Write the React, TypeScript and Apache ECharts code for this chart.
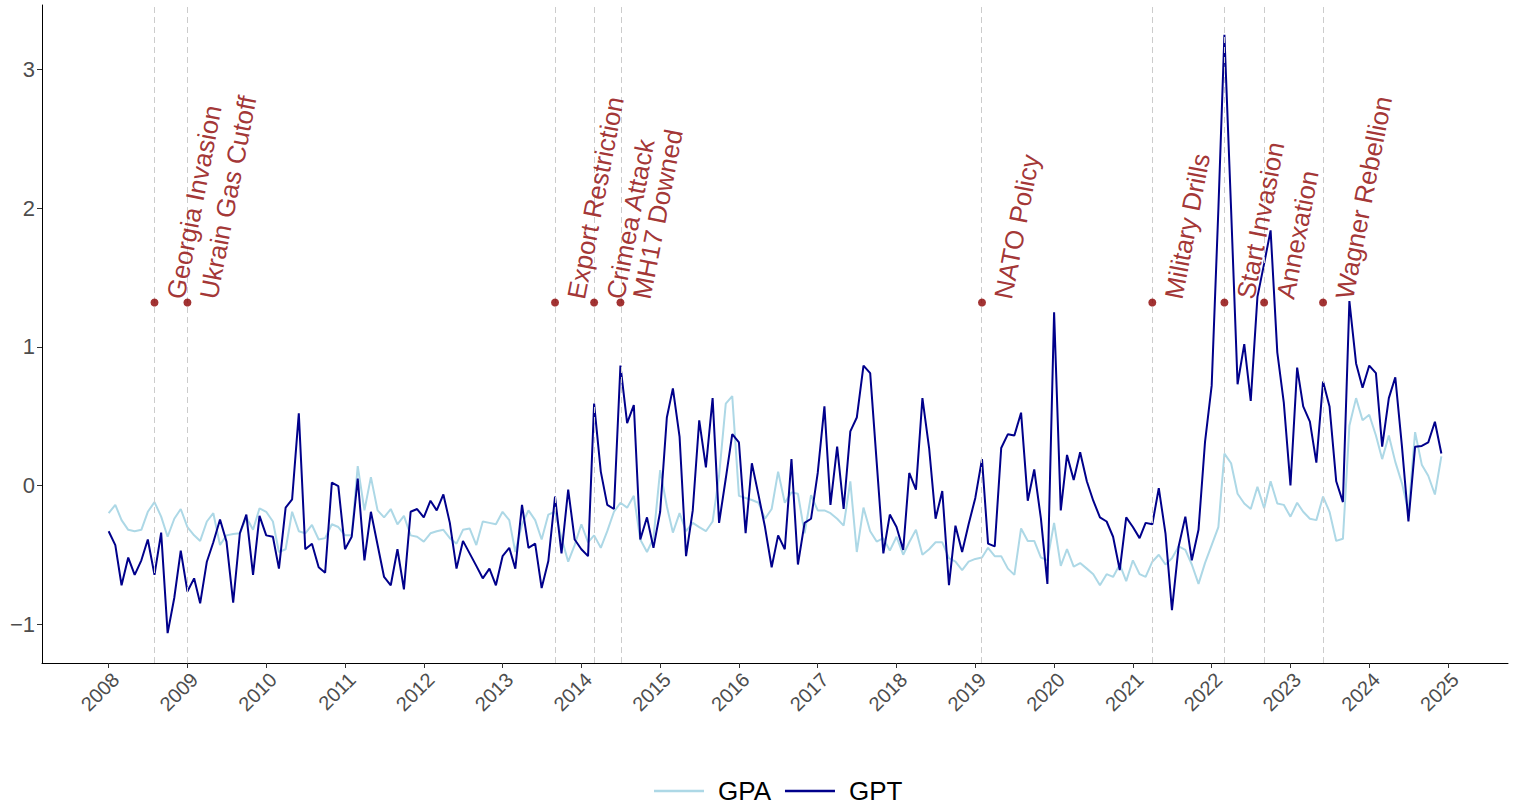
import React, { useEffect, useRef } from "react";
import * as echarts from "echarts";

// Monthly series, Jan 2008 .. Dec 2024
const START_YEAR = 2008;
const gpa: number[] = [
  -0.20, -0.14, -0.25, -0.32, -0.33, -0.32, -0.19, -0.12, -0.225, -0.37, -0.24, -0.17,
  -0.30, -0.36, -0.40, -0.26, -0.20, -0.43, -0.36, -0.35, -0.345, -0.23, -0.32, -0.165,
  -0.19, -0.26, -0.48, -0.46, -0.19, -0.33, -0.345, -0.285, -0.39, -0.38, -0.28, -0.30,
  -0.36, -0.36, 0.14, -0.18, 0.06, -0.18, -0.23, -0.17, -0.28, -0.22, -0.36, -0.37,
  -0.405, -0.345, -0.33, -0.32, -0.38, -0.42, -0.32, -0.31, -0.43, -0.26, -0.27, -0.28,
  -0.19, -0.25, -0.48, -0.28, -0.18, -0.25, -0.39, -0.21, -0.19, -0.38, -0.55, -0.43,
  -0.28, -0.41, -0.36, -0.45, -0.33, -0.19, -0.125, -0.16, -0.075, -0.39, -0.48, -0.38,
  0.11, -0.15, -0.34, -0.20, -0.33, -0.27, -0.30, -0.33, -0.26, 0.07, 0.59, 0.645,
  -0.075, -0.09, -0.105, -0.125, -0.24, -0.17, 0.10, -0.125, -0.05, -0.06, -0.345, -0.07,
  -0.18, -0.18, -0.20, -0.24, -0.29, 0.03, -0.48, -0.16, -0.33, -0.405, -0.38, -0.47,
  -0.37, -0.50, -0.41, -0.32, -0.50, -0.46, -0.41, -0.41, -0.525, -0.55, -0.61, -0.55,
  -0.53, -0.52, -0.45, -0.51, -0.51, -0.60, -0.645, -0.31, -0.40, -0.40, -0.52, -0.54,
  -0.27, -0.58, -0.46, -0.585, -0.56, -0.60, -0.64, -0.72, -0.64, -0.66, -0.57, -0.69,
  -0.54, -0.64, -0.66, -0.55, -0.50, -0.57, -0.525, -0.44, -0.465, -0.57, -0.71, -0.56,
  -0.43, -0.30, 0.23, 0.16, -0.06, -0.13, -0.17, -0.01, -0.165, 0.03, -0.13, -0.14,
  -0.225, -0.125, -0.19, -0.24, -0.25, -0.08, -0.19, -0.40, -0.385, 0.43, 0.63, 0.47,
  0.51, 0.36, 0.19, 0.36, 0.17, 0.015, -0.19, 0.385, 0.15, 0.07, -0.065, 0.21,
];
const gpt: number[] = [
  -0.33, -0.43, -0.72, -0.52, -0.645, -0.54, -0.39, -0.645, -0.34, -1.065, -0.81, -0.47,
  -0.765, -0.67, -0.85, -0.55, -0.41, -0.245, -0.405, -0.845, -0.345, -0.21, -0.645, -0.22,
  -0.36, -0.37, -0.60, -0.16, -0.10, 0.52, -0.46, -0.42, -0.59, -0.63, 0.02, -0.005,
  -0.46, -0.37, 0.05, -0.54, -0.19, -0.43, -0.66, -0.72, -0.46, -0.75, -0.19, -0.17,
  -0.23, -0.11, -0.18, -0.065, -0.27, -0.60, -0.40, -0.49, -0.58, -0.67, -0.60, -0.72,
  -0.51, -0.45, -0.60, -0.14, -0.45, -0.42, -0.74, -0.545, -0.08, -0.49, -0.03, -0.39,
  -0.46, -0.51, 0.59, 0.10, -0.14, -0.17, 0.865, 0.45, 0.58, -0.39, -0.23, -0.45,
  -0.19, 0.49, 0.70, 0.35, -0.51, -0.18, 0.47, 0.13, 0.63, -0.27, 0.05, 0.37,
  0.31, -0.345, 0.16, -0.07, -0.30, -0.59, -0.36, -0.46, 0.19, -0.57, -0.27, -0.24,
  0.09, 0.57, -0.14, 0.28, -0.17, 0.39, 0.49, 0.865, 0.81, 0.17, -0.49, -0.21,
  -0.30, -0.465, 0.09, -0.03, 0.63, 0.27, -0.24, -0.04, -0.72, -0.29, -0.48, -0.28,
  -0.09, 0.19, -0.42, -0.44, 0.27, 0.37, 0.36, 0.525, -0.11, 0.115, -0.24, -0.71,
  1.25, -0.18, 0.22, 0.04, 0.24, 0.03, -0.11, -0.23, -0.26, -0.37, -0.61, -0.23,
  -0.30, -0.38, -0.27, -0.28, -0.02, -0.345, -0.90, -0.44, -0.225, -0.54, -0.32, 0.31,
  0.72, 1.99, 3.25, 1.99, 0.73, 1.02, 0.61, 1.36, 1.60, 1.84, 0.96, 0.60,
  0.00, 0.85, 0.57, 0.46, 0.165, 0.75, 0.57, 0.03, -0.12, 1.33, 0.88, 0.705,
  0.865, 0.81, 0.28, 0.63, 0.78, 0.28, -0.26, 0.28, 0.285, 0.31, 0.46, 0.23,
];

const eventNames: string[] = [
  "Georgia Invasion",
  "Ukrain Gas Cutoff",
  "Export Restriction",
  "Crimea Attack",
  "MH17 Downed",
  "NATO Policy",
  "Military Drills",
  "Start Invasion",
  "Annexation",
  "Wagner Rebellion",
];
const eventMonths: string[] = [
  "2008-08", "2009-01", "2013-09", "2014-03", "2014-07",
  "2019-02", "2021-04", "2022-03", "2022-09", "2023-06",
];
const eventLevel = 1.32;
const yearTicks: number[] = [
  2008, 2009, 2010, 2011, 2012, 2013, 2014, 2015, 2016,
  2017, 2018, 2019, 2020, 2021, 2022, 2023, 2024, 2025,
];
const yTicks: number[] = [-1, 0, 1, 2, 3];

const FONT = "'Liberation Sans', Arial, Helvetica, sans-serif";

// Convert a calendar month (first day) to a decimal year position.
function decimalYear(year: number, monthIdx: number): number {
  const y = year + Math.floor(monthIdx / 12);
  const m = ((monthIdx % 12) + 12) % 12;
  const t = Date.UTC(y, m, 1);
  const a = Date.UTC(y, 0, 1);
  const b = Date.UTC(y + 1, 0, 1);
  return y + (t - a) / (b - a);
}
function monthPos(i: number): number {
  return decimalYear(START_YEAR, i);
}
function parseMonth(s: string): number {
  const [y, m] = s.split("-").map(Number);
  return decimalYear(y, m - 1);
}

export default function App() {
  const ref = useRef<HTMLDivElement>(null);

  useEffect(() => {
    document.body.style.margin = "0";
    if (!ref.current) return;
    const chart = echarts.init(ref.current, undefined, { renderer: "svg" });

    const n = gpa.length;
    const x0 = monthPos(0);
    const x1 = monthPos(n - 1);
    const xPad = (x1 - x0) * 0.05;
    const all = gpa.concat(gpt);
    const lo = Math.min(...all);
    const hi = Math.max(...all);
    const yPad = (hi - lo) * 0.05;

    const gpaData = gpa.map((v, i) => [monthPos(i), v]);
    const gptData = gpt.map((v, i) => [monthPos(i), v]);
    const evPos = eventMonths.map(parseMonth);

    chart.setOption({
      animation: false,
      backgroundColor: "#ffffff",
      textStyle: { fontFamily: FONT },
      grid: { left: 42, right: 14, top: 5, bottom: 144, containLabel: false },
      legend: {
        data: ["GPA", "GPT"],
        left: 654,
        top: 778,
        padding: 0,
        icon: "rect",
        itemWidth: 50,
        itemHeight: 2.5,
        itemGap: 14,
        textStyle: { fontSize: 26, color: "#000000", fontFamily: FONT, padding: [0, 0, 0, 9] },
      },
      xAxis: {
        type: "value",
        min: x0 - xPad,
        max: x1 + xPad,
        splitLine: { show: false },
        axisLine: { show: true, onZero: false, lineStyle: { color: "#000000", width: 1 } },
        axisTick: {
          show: true,
          customValues: yearTicks,
          length: 5,
          lineStyle: { color: "#333333", width: 1 },
        },
        axisLabel: {
          customValues: yearTicks,
          rotate: 45,
          margin: 6,
          verticalAlign: "top",
          fontSize: 20,
          color: "#4D4D4D",
          fontFamily: FONT,
          formatter: (v: number) => String(Math.round(v)),
        },
      },
      yAxis: {
        type: "value",
        min: lo - yPad,
        max: hi + yPad,
        splitLine: { show: false },
        axisLine: { show: true, onZero: false, lineStyle: { color: "#000000", width: 1 } },
        axisTick: {
          show: true,
          customValues: yTicks,
          length: 5,
          lineStyle: { color: "#333333", width: 1 },
        },
        axisLabel: {
          customValues: yTicks,
          margin: 7,
          fontSize: 22,
          color: "#4D4D4D",
          fontFamily: FONT,
          formatter: (v: number) => (v < 0 ? "\u2212" + Math.abs(v) : String(v)),
        },
      },
      series: [
        {
          name: "GPA",
          type: "line",
          data: gpaData,
          symbol: "none",
          color: "#ADD8E6",
          lineStyle: { color: "#ADD8E6", width: 2 },
          z: 2,
        },
        {
          name: "GPT",
          type: "line",
          data: gptData,
          symbol: "none",
          color: "#00008B",
          lineStyle: { color: "#00008B", width: 2 },
          z: 3,
        },
        {
          name: "events",
          type: "scatter",
          data: evPos.map((x, k) => ({ value: [x, eventLevel], name: eventNames[k] })),
          symbol: "circle",
          symbolSize: 8,
          itemStyle: { color: "#8B0000" },
          z: 5,
          label: {
            show: true,
            formatter: "{b}",
            position: [25, 0],
            rotate: 79,
            align: "left",
            verticalAlign: "middle",
            fontSize: 26,
            color: "#8B0000",
            fontFamily: FONT,
          },
          markLine: {
            silent: true,
            symbol: ["none", "none"],
            label: { show: false },
            lineStyle: { color: "#CCCCCC", type: [6, 4], width: 1 },
            data: evPos.map((x) => ({ xAxis: x })),
          },
        },
      ],
    });

    return () => chart.dispose();
  }, []);

  return (
    <div
      ref={ref}
      style={{ position: "absolute", left: 0, top: 0, width: 1522, height: 807 }}
    />
  );
}
